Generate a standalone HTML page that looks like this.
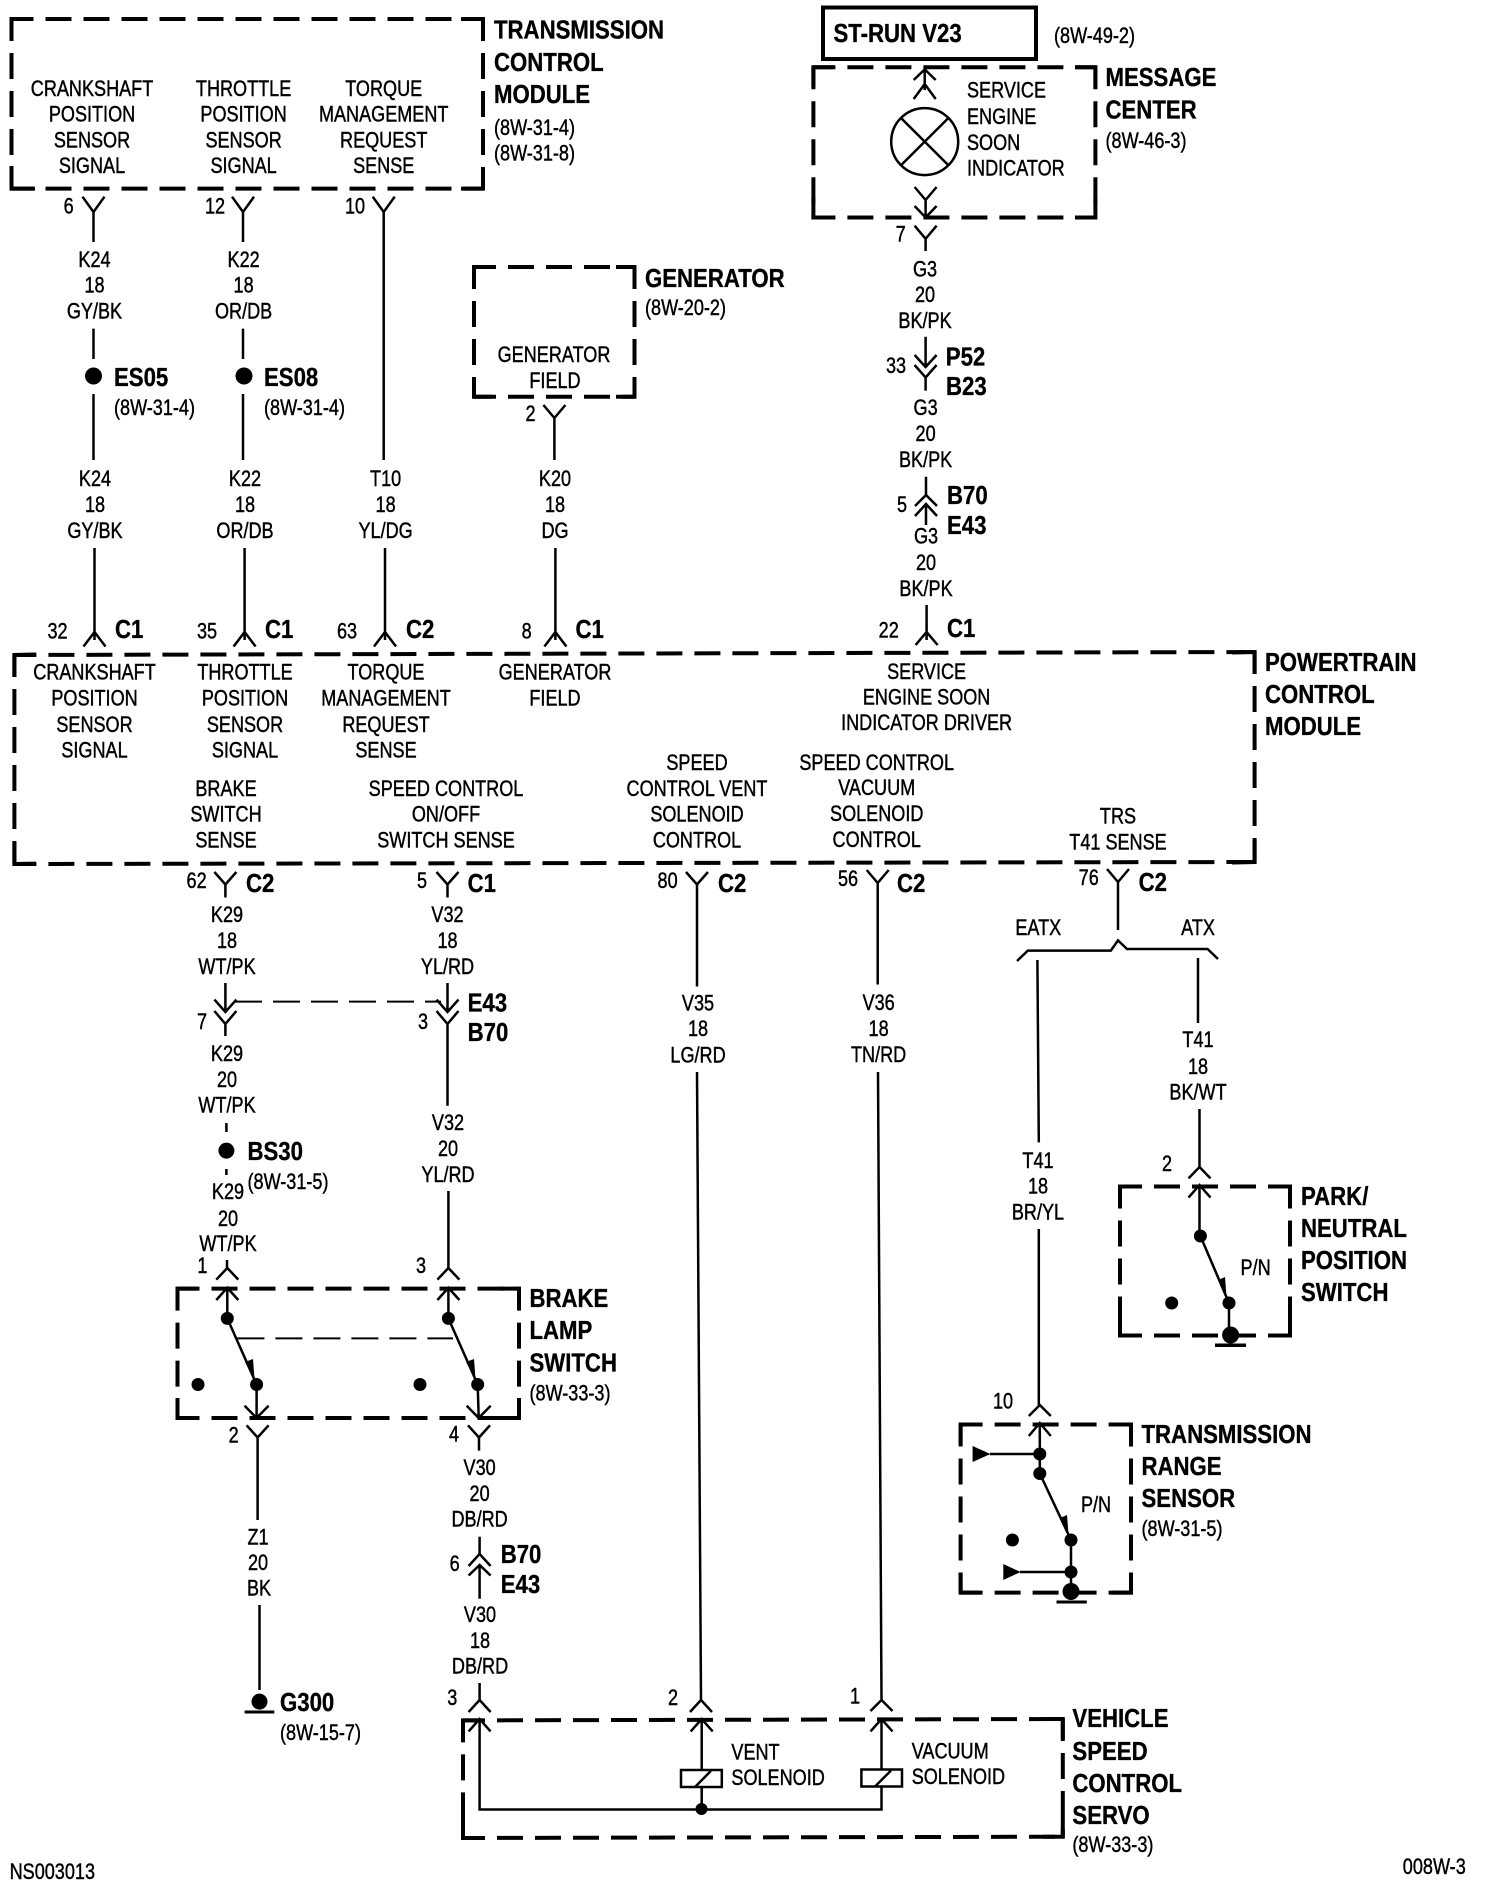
<!DOCTYPE html>
<html><head><meta charset="utf-8"><title>Wiring diagram</title>
<style>
html,body{margin:0;padding:0;background:#fff}
svg{display:block}
text{fill:#000;font-family:"Liberation Sans",sans-serif}
.n text{font-size:22.6px;stroke:#000;stroke-width:.45px}
.c{text-anchor:middle}
.b text{font-size:25.5px;font-weight:bold;stroke:#000;stroke-width:.35px}
.w{fill:none;stroke:#000;stroke-width:2.5}
.d{fill:none;stroke:#000;stroke-width:4;stroke-dasharray:26 12;stroke-dashoffset:4}
.s{fill:none;stroke:#000;stroke-width:4;stroke-linecap:square}
.t{fill:none;stroke:#000;stroke-width:2;stroke-dasharray:27 11}
</style></head><body>
<svg xmlns="http://www.w3.org/2000/svg" width="1504" height="1900" viewBox="0 0 1504 1900">
<rect width="1504" height="1900" fill="#fff"/>

<!-- boxes -->
<path class="d" d="M11.5 19H483M483 19V188.6M11.5 188.6H483M11.5 19V188.6"/>
<path class="s" d="M11.5 37V19H31M463 19H483V39M483 170V188.6H463M33 188.6H11.5V168"/>
<path class="d" d="M474 267H634.5M634.5 267V396.7M474 396.7H634.5M474 267V396.7"/>
<path class="s" d="M474 283V267H490M618 267H634.5V283M634.5 381V396.7H618M490 396.7H474V381"/>
<rect x="823" y="7.5" width="213" height="51.5" fill="none" stroke="#000" stroke-width="4"/>
<path class="d" d="M813.4 67.3H1095.4M1095.4 67.3V217.5M813.4 217.5H1095.4M813.4 67.3V217.5"/>
<path class="s" d="M813.4 85V67.3H831M1077 67.3H1095.4V85M1095.4 200V217.5H1077M831 217.5H813.4V200"/>
<path class="d" d="M14.4 655L1254.6 652M1254.6 652V862M14.4 864L1254.6 862M14.4 655V864"/>
<path class="s" d="M14.4 675V655L34 654.5M1234 652.5L1254.6 652V672M1254.6 842V862L1234 862.5M34 863.7L14.4 864V844"/>
<path class="d" d="M177.5 1288.6H519M519 1288.6V1418M177.5 1418H519M177.5 1288.6V1418"/>
<path class="s" d="M177.5 1306V1288.6H195M501 1288.6H519V1306M519 1400V1418H501M195 1418H177.5V1400"/>
<path class="d" d="M1120 1186.5H1290M1290 1186.5V1335.5M1120 1335.5H1290M1120 1186.5V1335.5"/>
<path class="s" d="M1120 1204V1186.5H1137M1273 1186.5H1290V1204M1290 1318V1335.5H1273M1137 1335.5H1120V1318"/>
<path class="d" d="M960.6 1424.5H1131M1131 1424.5V1592.6M960.6 1592.6H1131M960.6 1424.5V1592.6"/>
<path class="s" d="M960.6 1442V1424.5H978M1114 1424.5H1131V1442M1131 1575V1592.6H1114M978 1592.6H960.6V1575"/>
<path class="d" d="M463 1720.4L1062.8 1719M1062.8 1719V1836.7M463 1838L1062.8 1836.7M463 1720.4V1838"/>
<path class="s" d="M463 1738V1720.4H480M1045 1719H1062.8V1737M1062.8 1819V1836.7H1045M480 1838H463V1820"/>

<!-- top wires -->
<g class="w">
<path d="M82.5 196.7L93.5 212L104.5 196.7M93.5 212V242M93.5 328.6V359M93.5 394V460M94.5 548V640M83.5 646.5L94.5 632L105.5 646.5"/>
<path d="M232 196.7L243 212L254 196.7M243 212V242M243 328.6V359M243 394V460M244.6 548V640M233.6 646.5L244.6 632L255.6 646.5"/>
<path d="M372.7 196.7L383.7 212L394.7 196.7M383.7 212V460M385 548V640M374 646.5L385 632L396 646.5"/>
<path d="M543.4 405L554.4 418L565.4 405M554.4 418V460M555.4 548V640M544.4 646.5L555.4 632L566.4 646.5"/>
<path d="M924.7 69.4V90M913.7 80L924.7 69.4L935.7 80M913.7 99L924.7 84L935.7 99"/>
<path d="M914.6 187L925.6 200L936.6 187M925.6 200V217.5M914.6 206L925.6 217.5L936.6 206M914.6 225.7L925.6 238.8L936.6 225.7M925.6 238.8V251"/>
<path d="M925.6 336.7V367M914.6 355L925.6 367L936.6 355M914.6 365L925.6 377.5L936.6 365M925.6 377.5V390.6"/>
<path d="M926 476.7V495M915 506L926 495L937 506M915 516L926 504L937 516M926 504V525"/>
<path d="M926.6 605V640M915.6 645L926.6 632L937.6 645"/>
</g>

<!-- lower wires -->
<g class="w">
<path d="M214.4 872L225.4 884.5L236.4 872M225.4 884.5V897.5M225.4 983V1012M214.4 999.6L225.4 1012L236.4 999.6M214.4 1011L225.4 1024L236.4 1011M225.4 1024V1036M226.4 1123V1132M226.4 1169V1175M227 1260V1268M216.3 1279.6L227.3 1268L238.3 1279.6"/>
<path d="M436.5 872L447.5 884.5L458.5 872M447.5 884.5V897.5M447.5 983V1012M436.5 999.6L447.5 1012L458.5 999.6M436.5 1011L447.5 1024L458.5 1011M447.5 1024V1105.7M448.4 1191V1268M437.4 1279.6L448.4 1268L459.4 1279.6"/>
<path d="M686 872L697 884.5L708 872M697 884.5V986.5M697 1072L701 1700M690 1712L701 1700L712 1712"/>
<path d="M866.7 870L877.7 883L888.7 870M877.7 883V984.5M878 1072L881.5 1700M870.5 1711L881.5 1700L892.5 1711"/>
<path d="M1107 869L1118 882L1129 869M1118 882V930M1017 961L1027.8 950.6H1110.8L1118 940.4L1127 949H1207.6L1218 959M1037.4 960L1038.8 1142.4M1038.8 1229V1405M1028.8 1416L1039.8 1405L1050.8 1416"/>
<path d="M1198 958V1023M1199.5 1109V1167M1188.5 1178.4L1199.5 1167L1210.5 1178.4"/>
<!-- brake lamp switch -->
<path d="M216.3 1300L227.3 1287.8L238.3 1300M227.3 1287.8V1318M227.3 1318.4L256.6 1384.5V1418M244.6 1405.7L256.6 1418L268.6 1405.7"/>
<path d="M437.4 1300L448.4 1287.8L459.4 1300M448.4 1287.8V1318M448.4 1318.4L477.7 1384.5L478.7 1418M466.7 1405.7L478.7 1418L490.7 1405.7"/>
<path d="M246.6 1425.3L257.6 1437.5L268.6 1425.3M257.6 1437.5V1520M259.5 1605V1690"/>
<path d="M468 1425.3L479 1437.5L490 1425.3M479 1437.5V1450.6M479.6 1536.7V1554M468.6 1566L479.6 1554L490.6 1566M468.6 1575.5L479.6 1565L490.6 1575.5M479.6 1565V1598.8M479.6 1683V1700M468.6 1712L479.6 1700L490.6 1712"/>
<!-- park neutral -->
<path d="M1188.5 1197.6L1199.5 1185L1210.5 1197.6M1199.5 1185V1236M1200.4 1236L1229 1303V1335"/>
<!-- range sensor -->
<path d="M1028.8 1436L1039.8 1423L1050.8 1436M1039.8 1423V1473.5M1039.8 1473.5L1071 1540V1591M990 1454H1039.8M1020 1572H1071"/>
<!-- servo -->
<path d="M468.6 1731.4L479.6 1719L490.6 1731.4M479.6 1719V1809.5H881.5V1787M690.7 1731.4L701.7 1719L712.7 1731.4M701.7 1719V1770M701.7 1787V1809M870.5 1731.4L881.5 1719L892.5 1731.4M881.5 1719V1770"/>
<rect x="681" y="1770" width="40.8" height="17"/>
<rect x="861.4" y="1769.5" width="40.6" height="17"/>
<path d="M695.5 1786.5L710.8 1771M875.5 1786L891 1770.5"/>
</g>
<path class="t" d="M235 1001.6H441M237.4 1338.4H453"/>

<!-- lamp -->
<g fill="none" stroke="#000" stroke-width="2.5"><circle cx="924.7" cy="141.6" r="33.5"/><path d="M901 118L948.4 165.3M948.4 118L901 165.3"/></g>

<!-- dots and solids -->
<g fill="#000">
<circle cx="93.5" cy="376" r="8.5"/><circle cx="244" cy="376" r="8.5"/><circle cx="226.4" cy="1150.6" r="8"/>
<circle cx="227.3" cy="1318.4" r="6.5"/><circle cx="448.4" cy="1318.4" r="6.5"/><circle cx="256.6" cy="1384.5" r="6.5"/><circle cx="477.7" cy="1384.5" r="6.5"/><circle cx="198" cy="1384.5" r="6.5"/><circle cx="420" cy="1384.5" r="6.5"/>
<polygon points="254.5,1379 245,1362 253,1359"/><polygon points="475.5,1379 466,1362 474,1359"/>
<circle cx="259.5" cy="1701.6" r="8"/><rect x="244.6" y="1710.5" width="29.7" height="3"/>
<circle cx="1200.4" cy="1236" r="6.5"/><circle cx="1229" cy="1303" r="6.5"/><circle cx="1171.7" cy="1303" r="6.5"/><circle cx="1230.6" cy="1335" r="8.5"/><rect x="1215" y="1343.5" width="31" height="3.5"/>
<polygon points="1226.5,1297 1218,1280 1225,1277"/>
<circle cx="1039.8" cy="1454" r="6.5"/><circle cx="1039.8" cy="1473.5" r="6.5"/><circle cx="1071" cy="1540" r="6.5"/><circle cx="1012.4" cy="1540" r="6.5"/><circle cx="1071" cy="1572" r="6.5"/><circle cx="1071" cy="1591.5" r="8.5"/><rect x="1056.5" y="1600.5" width="30.3" height="3"/>
<polygon points="972.6,1446 990.4,1454 972.6,1462"/><polygon points="1003.3,1564 1020.6,1572 1003.3,1580"/>
<polygon points="1068.5,1534 1060,1518 1067,1515"/>
<circle cx="701.5" cy="1809" r="6"/>
</g>

<!-- regular labels centred -->
<g class="n" transform="translate(0,-1)">
<g class="c">
<text transform="matrix(.8 0 0 1 92 97)">CRANKSHAFT</text><text transform="matrix(.8 0 0 1 92 122.7)">POSITION</text><text transform="matrix(.8 0 0 1 92 148.4)">SENSOR</text><text transform="matrix(.8 0 0 1 92 174)">SIGNAL</text>
<text transform="matrix(.8 0 0 1 243.6 97)">THROTTLE</text><text transform="matrix(.8 0 0 1 243.6 122.7)">POSITION</text><text transform="matrix(.8 0 0 1 243.6 148.4)">SENSOR</text><text transform="matrix(.8 0 0 1 243.6 174)">SIGNAL</text>
<text transform="matrix(.8 0 0 1 383.7 97)">TORQUE</text><text transform="matrix(.8 0 0 1 383.7 122.7)">MANAGEMENT</text><text transform="matrix(.8 0 0 1 383.7 148.4)">REQUEST</text><text transform="matrix(.8 0 0 1 383.7 174)">SENSE</text>
<text transform="matrix(.8 0 0 1 68.6 214.5)">6</text><text transform="matrix(.8 0 0 1 215 214.5)">12</text><text transform="matrix(.8 0 0 1 355 214.5)">10</text>
<text transform="matrix(.8 0 0 1 94.5 268)">K24</text><text transform="matrix(.8 0 0 1 94.5 293.7)">18</text><text transform="matrix(.8 0 0 1 94.5 319.4)">GY/BK</text>
<text transform="matrix(.8 0 0 1 243.6 268)">K22</text><text transform="matrix(.8 0 0 1 243.6 293.7)">18</text><text transform="matrix(.8 0 0 1 243.6 319.4)">OR/DB</text>
<text transform="matrix(.8 0 0 1 95 487)">K24</text><text transform="matrix(.8 0 0 1 95 513)">18</text><text transform="matrix(.8 0 0 1 95 539)">GY/BK</text>
<text transform="matrix(.8 0 0 1 245 487)">K22</text><text transform="matrix(.8 0 0 1 245 513)">18</text><text transform="matrix(.8 0 0 1 245 539)">OR/DB</text>
<text transform="matrix(.8 0 0 1 385.6 487)">T10</text><text transform="matrix(.8 0 0 1 385.6 513)">18</text><text transform="matrix(.8 0 0 1 385.6 539)">YL/DG</text>
<text transform="matrix(.8 0 0 1 555 487)">K20</text><text transform="matrix(.8 0 0 1 555 513)">18</text><text transform="matrix(.8 0 0 1 555 539)">DG</text>
<text transform="matrix(.8 0 0 1 554 363)">GENERATOR</text><text transform="matrix(.8 0 0 1 555 389)">FIELD</text><text transform="matrix(.8 0 0 1 530.5 422)">2</text>
<text transform="matrix(.8 0 0 1 57.5 639.4)">32</text><text transform="matrix(.8 0 0 1 207 639.4)">35</text><text transform="matrix(.8 0 0 1 347 639.4)">63</text><text transform="matrix(.8 0 0 1 526.6 639.4)">8</text><text transform="matrix(.8 0 0 1 888.7 638.6)">22</text>
<text transform="matrix(.8 0 0 1 900.7 242.7)">7</text>
<text transform="matrix(.8 0 0 1 925 277.4)">G3</text><text transform="matrix(.8 0 0 1 925 303)">20</text><text transform="matrix(.8 0 0 1 925 329)">BK/PK</text>
<text transform="matrix(.8 0 0 1 896 374)">33</text>
<text transform="matrix(.8 0 0 1 925.6 416)">G3</text><text transform="matrix(.8 0 0 1 925.6 442)">20</text><text transform="matrix(.8 0 0 1 925.6 468)">BK/PK</text>
<text transform="matrix(.8 0 0 1 902 513)">5</text>
<text transform="matrix(.8 0 0 1 926 544.7)">G3</text><text transform="matrix(.8 0 0 1 926 571)">20</text><text transform="matrix(.8 0 0 1 926 597)">BK/PK</text>
<text transform="matrix(.8 0 0 1 94.5 680.7)">CRANKSHAFT</text><text transform="matrix(.8 0 0 1 94.5 706.4)">POSITION</text><text transform="matrix(.8 0 0 1 94.5 733)">SENSOR</text><text transform="matrix(.8 0 0 1 94.5 758.6)">SIGNAL</text>
<text transform="matrix(.8 0 0 1 245 680.7)">THROTTLE</text><text transform="matrix(.8 0 0 1 245 706.4)">POSITION</text><text transform="matrix(.8 0 0 1 245 733)">SENSOR</text><text transform="matrix(.8 0 0 1 245 758.6)">SIGNAL</text>
<text transform="matrix(.8 0 0 1 386 680.7)">TORQUE</text><text transform="matrix(.8 0 0 1 386 706.4)">MANAGEMENT</text><text transform="matrix(.8 0 0 1 386 733)">REQUEST</text><text transform="matrix(.8 0 0 1 386 758.6)">SENSE</text>
<text transform="matrix(.8 0 0 1 555 680.7)">GENERATOR</text><text transform="matrix(.8 0 0 1 555 706.4)">FIELD</text>
<text transform="matrix(.8 0 0 1 926.6 680)">SERVICE</text><text transform="matrix(.8 0 0 1 926.6 705.6)">ENGINE SOON</text><text transform="matrix(.8 0 0 1 926.6 731)">INDICATOR DRIVER</text>
<text transform="matrix(.8 0 0 1 226 797)">BRAKE</text><text transform="matrix(.8 0 0 1 226 822.7)">SWITCH</text><text transform="matrix(.8 0 0 1 226 848.4)">SENSE</text>
<text transform="matrix(.8 0 0 1 446 797)">SPEED CONTROL</text><text transform="matrix(.8 0 0 1 446 822.7)">ON/OFF</text><text transform="matrix(.8 0 0 1 446 848.4)">SWITCH SENSE</text>
<text transform="matrix(.8 0 0 1 697 771)">SPEED</text><text transform="matrix(.8 0 0 1 697 797)">CONTROL VENT</text><text transform="matrix(.8 0 0 1 697 822.7)">SOLENOID</text><text transform="matrix(.8 0 0 1 697 848.4)">CONTROL</text>
<text transform="matrix(.8 0 0 1 876.7 771)">SPEED CONTROL</text><text transform="matrix(.8 0 0 1 876.7 796)">VACUUM</text><text transform="matrix(.8 0 0 1 876.7 822)">SOLENOID</text><text transform="matrix(.8 0 0 1 876.7 848)">CONTROL</text>
<text transform="matrix(.8 0 0 1 1118 824.7)">TRS</text><text transform="matrix(.8 0 0 1 1118 850.4)">T41 SENSE</text>
<text transform="matrix(.8 0 0 1 196.6 889)">62</text><text transform="matrix(.8 0 0 1 422 889)">5</text><text transform="matrix(.8 0 0 1 667.6 889)">80</text><text transform="matrix(.8 0 0 1 848 887)">56</text><text transform="matrix(.8 0 0 1 1088.7 886)">76</text>
<text transform="matrix(.8 0 0 1 227 923)">K29</text><text transform="matrix(.8 0 0 1 227 949)">18</text><text transform="matrix(.8 0 0 1 227 975)">WT/PK</text>
<text transform="matrix(.8 0 0 1 447.5 923)">V32</text><text transform="matrix(.8 0 0 1 447.5 949)">18</text><text transform="matrix(.8 0 0 1 447.5 975)">YL/RD</text>
<text transform="matrix(.8 0 0 1 202 1030)">7</text><text transform="matrix(.8 0 0 1 423 1030)">3</text>
<text transform="matrix(.8 0 0 1 227 1062)">K29</text><text transform="matrix(.8 0 0 1 227 1088)">20</text><text transform="matrix(.8 0 0 1 227 1113.7)">WT/PK</text>
<text transform="matrix(.8 0 0 1 228 1200)">K29</text><text transform="matrix(.8 0 0 1 228 1227)">20</text><text transform="matrix(.8 0 0 1 228 1252)">WT/PK</text>
<text transform="matrix(.8 0 0 1 448 1131)">V32</text><text transform="matrix(.8 0 0 1 448 1157)">20</text><text transform="matrix(.8 0 0 1 448 1183)">YL/RD</text>
<text transform="matrix(.8 0 0 1 698 1011.7)">V35</text><text transform="matrix(.8 0 0 1 698 1037)">18</text><text transform="matrix(.8 0 0 1 698 1063.5)">LG/RD</text>
<text transform="matrix(.8 0 0 1 878.6 1011)">V36</text><text transform="matrix(.8 0 0 1 878.6 1037)">18</text><text transform="matrix(.8 0 0 1 878.6 1063)">TN/RD</text>
<text transform="matrix(.8 0 0 1 1038.3 936)">EATX</text><text transform="matrix(.8 0 0 1 1198 936)">ATX</text>
<text transform="matrix(.8 0 0 1 1038 1169)">T41</text><text transform="matrix(.8 0 0 1 1038 1194.5)">18</text><text transform="matrix(.8 0 0 1 1038 1220.6)">BR/YL</text>
<text transform="matrix(.8 0 0 1 1198 1048)">T41</text><text transform="matrix(.8 0 0 1 1198 1075)">18</text><text transform="matrix(.8 0 0 1 1198 1100.6)">BK/WT</text>
<text transform="matrix(.8 0 0 1 1167 1172)">2</text><text transform="matrix(.8 0 0 1 1255.6 1276)">P/N</text>
<text transform="matrix(.8 0 0 1 1003 1409.6)">10</text><text transform="matrix(.8 0 0 1 1096 1513)">P/N</text>
<text transform="matrix(.8 0 0 1 202.4 1274)">1</text><text transform="matrix(.8 0 0 1 421 1274)">3</text>
<text transform="matrix(.8 0 0 1 233.6 1443.5)">2</text><text transform="matrix(.8 0 0 1 454 1442.7)">4</text>
<text transform="matrix(.8 0 0 1 258 1545.6)">Z1</text><text transform="matrix(.8 0 0 1 258 1571)">20</text><text transform="matrix(.8 0 0 1 259 1596.6)">BK</text>
<text transform="matrix(.8 0 0 1 479.6 1476)">V30</text><text transform="matrix(.8 0 0 1 479.6 1502)">20</text><text transform="matrix(.8 0 0 1 479.6 1527.6)">DB/RD</text>
<text transform="matrix(.8 0 0 1 454.7 1572)">6</text>
<text transform="matrix(.8 0 0 1 480 1623)">V30</text><text transform="matrix(.8 0 0 1 480 1649)">18</text><text transform="matrix(.8 0 0 1 480 1674.5)">DB/RD</text>
<text transform="matrix(.8 0 0 1 452.3 1706)">3</text><text transform="matrix(.8 0 0 1 673 1706)">2</text><text transform="matrix(.8 0 0 1 855 1704.7)">1</text>
</g>
<!-- regular left aligned -->
<text transform="matrix(.8 0 0 1 494 136)">(8W-31-4)</text><text transform="matrix(.8 0 0 1 494 161.5)">(8W-31-8)</text>
<text transform="matrix(.8 0 0 1 114 416)">(8W-31-4)</text><text transform="matrix(.8 0 0 1 264 416)">(8W-31-4)</text>
<text transform="matrix(.8 0 0 1 645 316)">(8W-20-2)</text>
<text transform="matrix(.8 0 0 1 1054 44)">(8W-49-2)</text><text transform="matrix(.8 0 0 1 1105.5 149)">(8W-46-3)</text>
<text transform="matrix(.8 0 0 1 967 98.6)">SERVICE</text><text transform="matrix(.8 0 0 1 967 125)">ENGINE</text><text transform="matrix(.8 0 0 1 967 151)">SOON</text><text transform="matrix(.8 0 0 1 967 176.6)">INDICATOR</text>
<text transform="matrix(.8 0 0 1 247.5 1190)">(8W-31-5)</text>
<text transform="matrix(.8 0 0 1 529.5 1401.5)">(8W-33-3)</text>
<text transform="matrix(.8 0 0 1 280 1741)">(8W-15-7)</text>
<text transform="matrix(.8 0 0 1 1141.5 1537)">(8W-31-5)</text>
<text transform="matrix(.8 0 0 1 731.4 1760.6)">VENT</text><text transform="matrix(.8 0 0 1 731.4 1786)">SOLENOID</text>
<text transform="matrix(.8 0 0 1 911.7 1759.4)">VACUUM</text><text transform="matrix(.8 0 0 1 911.7 1785)">SOLENOID</text>
<text transform="matrix(.8 0 0 1 1072.4 1853)">(8W-33-3)</text>
<text transform="matrix(.8 0 0 1 9.6 1880)">NS003013</text>
<text transform="matrix(.8 0 0 1 1402.8 1875)">008W-3</text>
</g>

<!-- bold labels -->
<g class="b">
<text transform="matrix(.87 0 0 1 494 38.4)">TRANSMISSION</text><text transform="matrix(.87 0 0 1 494 71)">CONTROL</text><text transform="matrix(.87 0 0 1 494 103)">MODULE</text>
<text transform="matrix(.87 0 0 1 114 386)">ES05</text><text transform="matrix(.87 0 0 1 264 386)">ES08</text>
<text transform="matrix(.87 0 0 1 645 287)">GENERATOR</text>
<text transform="matrix(.87 0 0 1 833.5 42)">ST-RUN V23</text>
<text transform="matrix(.87 0 0 1 1105.5 86)">MESSAGE</text><text transform="matrix(.87 0 0 1 1105.5 118.5)">CENTER</text>
<text transform="matrix(.87 0 0 1 945.8 365.5)">P52</text><text transform="matrix(.87 0 0 1 946 395)">B23</text>
<text transform="matrix(.87 0 0 1 947 504)">B70</text><text transform="matrix(.87 0 0 1 947 534)">E43</text>
<text transform="matrix(.87 0 0 1 115 638)">C1</text><text transform="matrix(.87 0 0 1 265 638)">C1</text><text transform="matrix(.87 0 0 1 406 638)">C2</text><text transform="matrix(.87 0 0 1 575.5 638)">C1</text><text transform="matrix(.87 0 0 1 947 637)">C1</text>
<text transform="matrix(.87 0 0 1 1265 671)">POWERTRAIN</text><text transform="matrix(.87 0 0 1 1265 703)">CONTROL</text><text transform="matrix(.87 0 0 1 1265 735)">MODULE</text>
<text transform="matrix(.87 0 0 1 246 892)">C2</text><text transform="matrix(.87 0 0 1 467.6 892)">C1</text><text transform="matrix(.87 0 0 1 718 892)">C2</text><text transform="matrix(.87 0 0 1 897 892)">C2</text><text transform="matrix(.87 0 0 1 1138.6 891)">C2</text>
<text transform="matrix(.87 0 0 1 467.6 1011.5)">E43</text><text transform="matrix(.87 0 0 1 467.6 1041)">B70</text>
<text transform="matrix(.87 0 0 1 247.5 1160)">BS30</text>
<text transform="matrix(.87 0 0 1 1301 1205)">PARK/</text><text transform="matrix(.87 0 0 1 1301 1237)">NEUTRAL</text><text transform="matrix(.87 0 0 1 1301 1269)">POSITION</text><text transform="matrix(.87 0 0 1 1301 1301)">SWITCH</text>
<text transform="matrix(.87 0 0 1 529.5 1307)">BRAKE</text><text transform="matrix(.87 0 0 1 529.5 1339)">LAMP</text><text transform="matrix(.87 0 0 1 529.5 1371.5)">SWITCH</text>
<text transform="matrix(.87 0 0 1 1141.5 1443)">TRANSMISSION</text><text transform="matrix(.87 0 0 1 1141.5 1475)">RANGE</text><text transform="matrix(.87 0 0 1 1141.5 1507)">SENSOR</text>
<text transform="matrix(.87 0 0 1 500.7 1563)">B70</text><text transform="matrix(.87 0 0 1 500.7 1593)">E43</text>
<text transform="matrix(.87 0 0 1 280 1711)">G300</text>
<text transform="matrix(.87 0 0 1 1072.4 1727)">VEHICLE</text><text transform="matrix(.87 0 0 1 1072.4 1760)">SPEED</text><text transform="matrix(.87 0 0 1 1072.4 1792)">CONTROL</text><text transform="matrix(.87 0 0 1 1072.4 1824)">SERVO</text>
</g>
</svg>
</body></html>
